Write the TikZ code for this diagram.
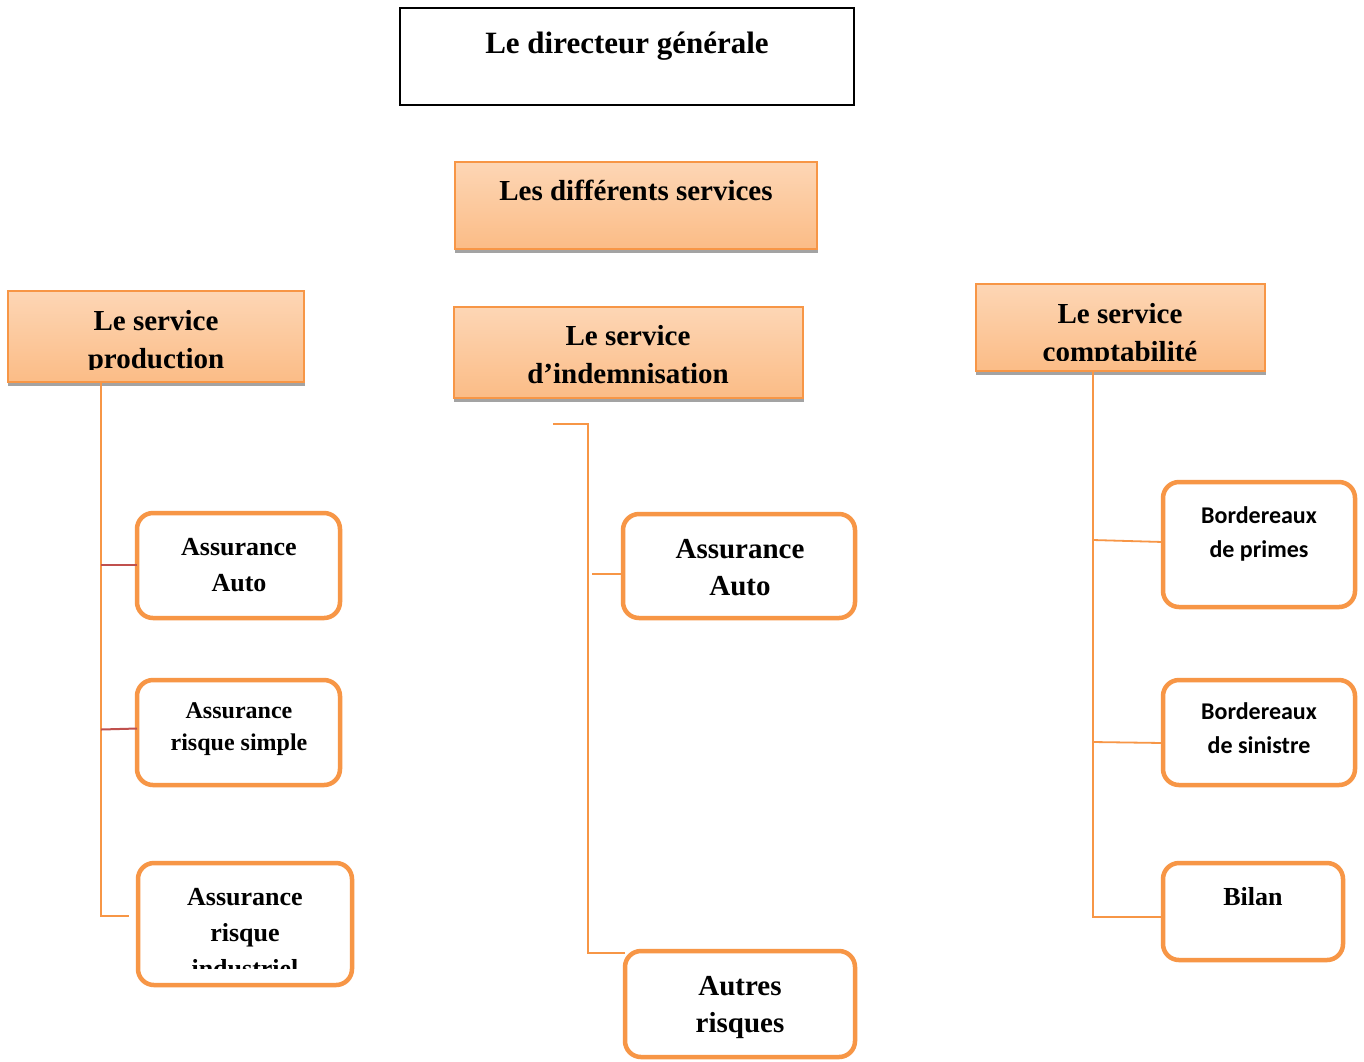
\documentclass[tikz,border=0pt]{standalone}
\usepackage{fontspec}
\setmainfont{Liberation Serif}
\newfontfamily\calfont{Carlito}
\definecolor{org}{HTML}{F79646}
\definecolor{hdtop}{HTML}{FDD6B5}
\definecolor{hdbot}{HTML}{FBBC86}
\definecolor{shd}{HTML}{A3A3A3}
\definecolor{redl}{HTML}{C0504D}
\begin{document}
\begin{tikzpicture}[x=1pt,y=-1pt,
  header/.style={draw=org, line width=1.6pt, top color=hdtop, bottom color=hdbot, anchor=north west, inner sep=0pt, outer sep=0pt},
  topbox/.style={draw=black, line width=2.2pt, fill=white, anchor=north west, inner sep=0pt, outer sep=0pt},
  leaf/.style={draw=org, line width=4.5pt, fill=white, rounded corners=16pt, anchor=north west, inner sep=0pt, outer sep=0pt},
  link/.style={draw=org, line width=1.8pt},
  rlink/.style={draw=redl, line width=2pt},
  shadow/.style={fill=shd},
  txt/.style={anchor=base, inner sep=0pt, font=\bfseries\fontsize{#1}{#1}\selectfont},
  ctxt/.style={anchor=base, inner sep=0pt, font=\calfont\bfseries\fontsize{#1}{#1}\selectfont}
]
\useasboundingbox (0,0) rectangle (1364,1061);
\fill[white] (0,0) rectangle (1364,1061);

% top box
\node[topbox, minimum width=454pt, minimum height=97pt] (dir) at (400,8) {};
\node[txt=31] (tdir) at (627,53) {Le directeur générale};

% header boxes
\node[header, minimum width=362pt, minimum height=87pt] (svc) at (455,162) {};
\fill[shadow] (455,249.8) rectangle (818,253);
\node[txt=29] (tsvc) at (636,200) {Les différents services};

\node[header, minimum width=296pt, minimum height=91pt] (prod) at (8,291) {};
\fill[shadow] (8,382.8) rectangle (305,386);
\node[txt=29] (tprod1) at (156,330) {Le service};
\begin{scope}
  \clip (8,291) rectangle (304,369);
  \node[txt=29] (tprod2) at (156,368) {production};
\end{scope}

\node[header, minimum width=349pt, minimum height=91pt] (ind) at (454,307) {};
\fill[shadow] (454,398.8) rectangle (804,402);
\node[txt=29] (tind1) at (628,345) {Le service};
\node[txt=29] (tind2) at (628,383) {d’indemnisation};

\node[header, minimum width=289pt, minimum height=87pt] (comp) at (976,284) {};
\fill[shadow] (976,371.8) rectangle (1266,375);
\node[txt=29] (tcomp1) at (1120,323) {Le service};
\begin{scope}
  \clip (976,284) rectangle (1265,360.5);
  \node[txt=29] (tcomp2) at (1120,361) {comptabilité};
\end{scope}

% leaf boxes
\node[leaf, minimum width=203pt, minimum height=105pt] (la) at (137,513) {};
\node[txt=26] (tla1) at (239,555) {Assurance};
\node[txt=26] (tla2) at (239,591) {Auto};

\node[leaf, minimum width=203pt, minimum height=105pt] (lb) at (137,680) {};
\node[txt=24] (tlb1) at (239,718) {Assurance};
\node[txt=24] (tlb2) at (239,750) {risque simple};

\node[leaf, minimum width=214pt, minimum height=122pt] (lc) at (138,863) {};
\node[txt=26] (tlc1) at (245,905) {Assurance};
\node[txt=26] (tlc2) at (245,941) {risque};
\begin{scope}
  \clip (138,863) rectangle (352,968);
  \node[txt=26] (tlc3) at (245,977) {industriel};
\end{scope}

\node[leaf, minimum width=232pt, minimum height=104pt] (ma) at (623,514) {};
\node[txt=29] (tma1) at (740,558) {Assurance};
\node[txt=29] (tma2) at (740,595) {Auto};

\node[leaf, minimum width=230pt, minimum height=106pt] (mb) at (625,951) {};
\node[txt=29] (tmb1) at (740,995) {Autres};
\node[txt=29] (tmb2) at (740,1032) {risques};

\node[leaf, minimum width=192pt, minimum height=125pt] (ra) at (1163,482) {};
\node[ctxt=24] (tra1) at (1259,523) {Bordereaux};
\node[ctxt=24] (tra2) at (1259,557) {de primes};

\node[leaf, minimum width=192pt, minimum height=105pt] (rb) at (1163,680) {};
\node[ctxt=24] (trb1) at (1259,719) {Bordereaux};
\node[ctxt=24] (trb2) at (1259,753) {de sinistre};

\node[leaf, minimum width=180pt, minimum height=97pt] (rc) at (1163,863) {};
\node[txt=26] (trc) at (1253,905) {Bilan};

% connectors: left
\coordinate (lv0) at (101,383);
\coordinate (lv1) at (101,916);
\coordinate (lce) at (129,916);
\draw[link] (lv0) -- (lv1) -- (lce);
\coordinate (lva) at (101,564.5);
\draw[rlink] (lva) -- (lva -| la.west);
\coordinate (lvb) at (101,729.5);
\draw[rlink] (lvb) -- ([yshift=1pt]lvb -| lb.west);

% connectors: middle
\coordinate (m0) at (553,424);
\coordinate (m1) at (588,424);
\coordinate (m2) at (588,953);
\draw[link] (m0) -- (m1) -- (m2) -- (m2 -| mb.west);
\coordinate (m3) at (592,574);
\draw[link] (m3) -- (m3 -| ma.west);

% connectors: right
\coordinate (r0) at (1093,372);
\coordinate (r1) at (1093,917);
\draw[link] (r0) -- (r1) -- (r1 -| rc.west);
\coordinate (r2) at (1093,540);
\draw[link] (r2) -- ([yshift=-2pt]r2 -| ra.west);
\coordinate (r3) at (1093,742);
\draw[link] (r3) -- ([yshift=-1pt]r3 -| rb.west);
\end{tikzpicture}
\end{document}
